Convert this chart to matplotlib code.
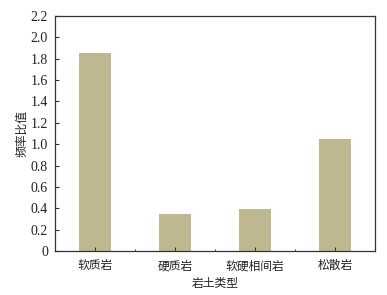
import matplotlib.pyplot as plt
from matplotlib.ticker import FixedLocator

categories = ['软质岩', '硬质岩', '软硬相间岩', '松散岩']
values = [1.85, 0.35, 0.39, 1.05]
y_ticks = [0, 0.2, 0.4, 0.6, 0.8, 1.0, 1.2, 1.4, 1.6, 1.8, 2.0, 2.2]
y_labels = ['0', '0.2', '0.4', '0.6', '0.8', '1.0', '1.2', '1.4', '1.6', '1.8', '2.0', '2.2']

cjk = ['Noto Sans CJK SC', 'DejaVu Sans']
num_font = 'Liberation Serif'

fig = plt.figure(figsize=(3.87, 2.95), dpi=100)
ax = fig.add_axes([55 / 387, 1 - 251 / 295, 320 / 387, 235 / 295])

x = list(range(len(categories)))
ax.bar(x, values, width=0.41, color='#bdb88f')

ax.set_xlim(-0.5, 3.5)
ax.set_ylim(0, 2.2)
ax.set_xticks(x)
ax.set_xticklabels(categories, family=cjk, fontsize=8.5, color='#222222')
ax.xaxis.set_minor_locator(FixedLocator([0.5, 1.5, 2.5]))
ax.set_yticks(y_ticks)
ax.set_yticklabels(y_labels, family=num_font, fontsize=10, color='#222222')

ax.tick_params(which='both', direction='in', top=False, right=False, color='#333333')
ax.tick_params(which='major', length=3, width=0.8)
ax.tick_params(which='minor', length=1.5, width=0.6)
ax.tick_params(axis='x', pad=6)
ax.tick_params(axis='y', pad=5)

for s in ax.spines.values():
    s.set_linewidth(0.9)
    s.set_color('#333333')

ax.set_xlabel('岩土类型', family=cjk, fontsize=8.5, labelpad=3, color='#222222')
ax.set_ylabel('频率比值', family=cjk, fontsize=8.5, labelpad=2, color='#222222')

fig.savefig('out.png', dpi=100)
